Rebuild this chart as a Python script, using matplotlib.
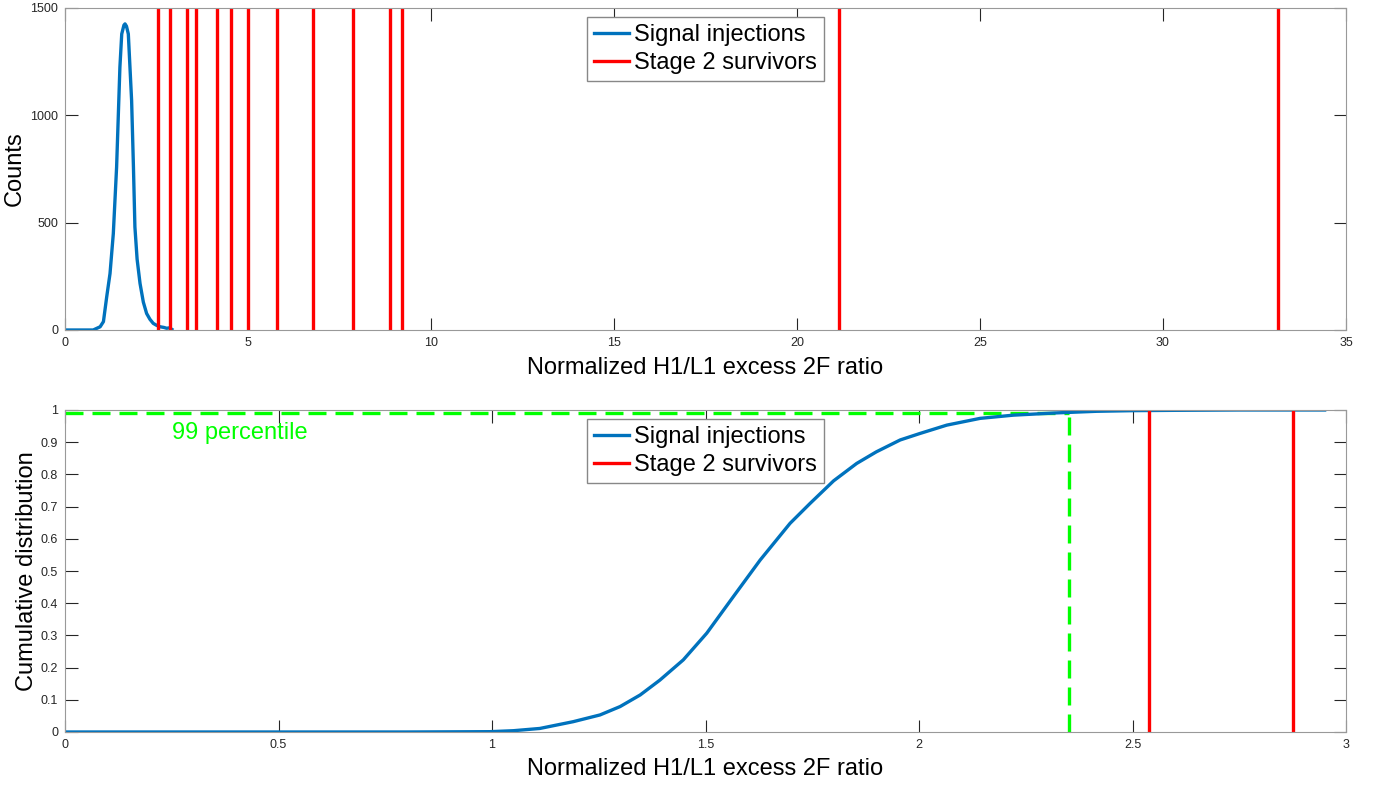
import matplotlib
matplotlib.use("Agg")
import matplotlib.pyplot as plt

plt.rcParams['font.family'] = ['Liberation Sans', 'DejaVu Sans']

# top panel: histogram of signal injections (bin centre, counts)
hist_x = [0.0, 0.5, 0.77, 0.96, 1.05, 1.14, 1.23, 1.32, 1.41, 1.5, 1.55, 1.61, 1.64,
          1.68, 1.73, 1.82, 1.87, 1.91, 1.97, 2.05, 2.14, 2.23, 2.32, 2.41, 2.5,
          2.6, 2.7, 2.78, 2.85, 2.92]
hist_counts = [0, 0, 0, 15, 39, 155, 263, 449, 759, 1224, 1379, 1420, 1426,
               1415, 1379, 1069, 759, 480, 330, 217, 130, 77, 50, 31, 22,
               15, 12, 8, 10, 3]

# stage 2 survivors (ratio values)
survivors = [2.54, 2.87, 3.33, 3.57, 4.14, 4.54, 5.01, 5.79, 6.78, 7.86, 8.88,
             9.22, 21.15, 33.14]

# bottom panel: cumulative distribution of signal injections
cdf_x = [0.0, 0.5, 0.8, 0.9, 0.995, 1.05, 1.112, 1.19, 1.253, 1.30, 1.347, 1.393,
         1.448, 1.503, 1.565, 1.628, 1.698, 1.745, 1.80, 1.854, 1.90, 1.956,
         2.002, 2.065, 2.143, 2.221, 2.322, 2.416, 2.502, 2.6, 2.75, 2.95]
cdf_y = [0.0, 0.0, 0.0, 0.0005, 0.001, 0.004, 0.011, 0.032, 0.053, 0.079, 0.115,
         0.161, 0.224, 0.307, 0.42, 0.534, 0.648, 0.71, 0.78, 0.834, 0.87, 0.907,
         0.927, 0.953, 0.974, 0.984, 0.991, 0.996, 0.998, 0.999, 1.0, 1.0]
p99 = 2.351
survivors_zoom = [2.538, 2.877]

blue = '#0072BD'
red = '#FF0000'
green = '#00FF00'
axcol = '#262626'
dash = (0, (5.4, 2.7))

fig = plt.figure(figsize=(13.8, 7.86), dpi=100)
ax1 = fig.add_axes([65/1380, 1-330/786, 1281/1380, 322/786])
ax2 = fig.add_axes([65/1380, 1-732/786, 1281/1380, 322/786])

leg_kw = dict(loc='upper center', bbox_to_anchor=(0.5, 0.972), borderaxespad=0,
              fontsize=17, fancybox=False, edgecolor='#888888', framealpha=1,
              handlelength=1.5, handletextpad=0.2, borderpad=0.3,
              labelspacing=0.25)

# top
ax1.plot(hist_x, hist_counts, color=blue, lw=2.4, label='Signal injections')
for i, s in enumerate(survivors):
    ax1.plot([s, s], [0, 1500], color=red, lw=2.4,
             label='Stage 2 survivors' if i == 0 else None)
ax1.set_xlim(0, 35)
ax1.set_ylim(0, 1500)
ax1.set_xticks(range(0, 36, 5))
ax1.set_yticks([0, 500, 1000, 1500])
ax1.set_xlabel('Normalized H1/L1 excess 2F ratio', fontsize=17, labelpad=6)
ax1.set_ylabel('Counts', fontsize=17, labelpad=3)
ax1.legend(**leg_kw)

# bottom
ax2.plot([0, p99], [0.99, 0.99], color=green, lw=2.4, ls=dash)
ax2.plot([p99, p99], [0, 0.99], color=green, lw=2.4, ls=dash)
ax2.plot(cdf_x, cdf_y, color=blue, lw=2.4, label='Signal injections')
for i, s in enumerate(survivors_zoom):
    ax2.plot([s, s], [0, 1], color=red, lw=2.4,
             label='Stage 2 survivors' if i == 0 else None)
ax2.text(0.25, 0.93, '99 percentile', color=green, fontsize=17, va='center')
ax2.set_xlim(0, 3)
ax2.set_ylim(0, 1)
ax2.set_xticks([0, 0.5, 1, 1.5, 2, 2.5, 3])
ax2.set_xticklabels(['0', '0.5', '1', '1.5', '2', '2.5', '3'])
ax2.set_yticks([i/10 for i in range(11)])
ax2.set_yticklabels(['0'] + ['0.%d' % i for i in range(1, 10)] + ['1'])
ax2.set_xlabel('Normalized H1/L1 excess 2F ratio', fontsize=17, labelpad=5)
ax2.set_ylabel('Cumulative distribution', fontsize=17, labelpad=2)
ax2.legend(**leg_kw)

for ax in (ax1, ax2):
    ax.tick_params(direction='in', length=9, width=0.8, top=True, right=True,
                   labelsize=9, colors=axcol, pad=5)
    for sp in ax.spines.values():
        sp.set_color('#999999')
        sp.set_linewidth(0.8)

fig.savefig('out.png', dpi=100)
